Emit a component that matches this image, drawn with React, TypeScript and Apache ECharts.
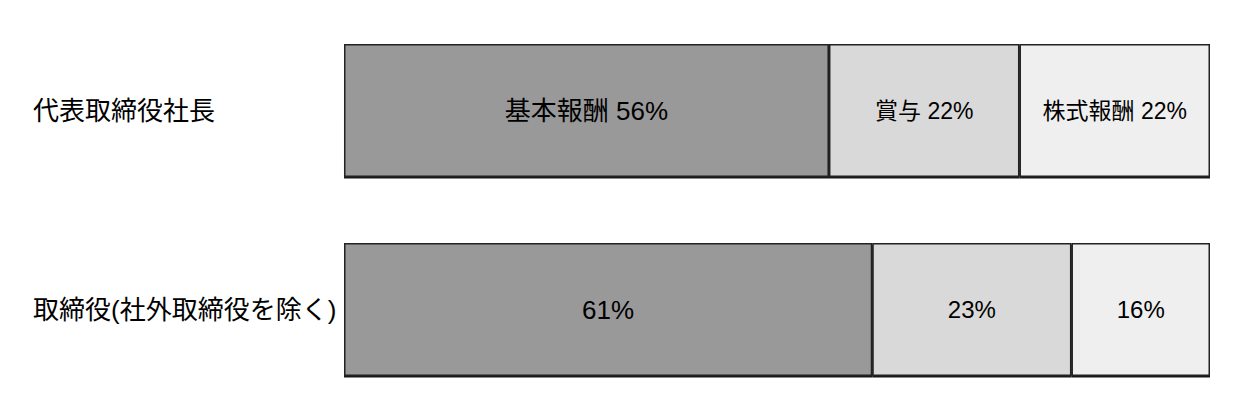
import React, { useEffect, useRef } from 'react';
import * as echarts from 'echarts';

const categories = ['代表取締役社長', '取締役(社外取締役を除く)'];
const seriesNames = ['基本報酬', '賞与', '株式報酬'];
const basicPay = [56, 61];
const bonus = [22, 23];
const stockPay = [22, 16];

const colors = ['#999999', '#d9d9d9', '#efefef'];
const fontFamily = '"Liberation Sans", "Noto Sans CJK JP", sans-serif';

const App: React.FC = () => {
  const chartRef = useRef<HTMLDivElement>(null);

  useEffect(() => {
    if (!chartRef.current) return;
    const chart = echarts.init(chartRef.current, undefined, { renderer: 'svg' });

    const values = [basicPay, bonus, stockPay];
    // 先頭の区分だけ少し大きめ
    const labelSizes = [
      [26, 26],
      [23, 24],
      [23, 24],
    ];

    const option: any = {
      animation: false,
      backgroundColor: '#ffffff',
      grid: { left: 344, right: 27, top: 11, bottom: 7 },
      xAxis: {
        type: 'value',
        min: 0,
        max: 100,
        show: false,
      },
      yAxis: {
        type: 'category',
        inverse: true,
        data: categories,
        axisLine: { show: false },
        axisTick: { show: false },
        splitLine: { show: false },
        axisLabel: {
          align: 'left',
          margin: 311,
          fontSize: 26,
          color: '#000',
          fontFamily,
        },
      },
      series: seriesNames.map((name, si) => ({
        name,
        type: 'bar',
        stack: 'total',
        barWidth: 133,
        itemStyle: {
          color: colors[si],
          borderColor: '#222',
          borderWidth: 1.5,
          shadowColor: 'rgba(0,0,0,0.9)',
          shadowOffsetY: 1.5,
          shadowBlur: 0,
        },
        label: {
          show: true,
          position: 'inside',
          color: '#000',
          fontFamily,
          formatter: (p: any) =>
            p.dataIndex === 0 ? `${name} ${p.value}%` : `${p.value}%`,
        },
        data: values[si].map((v, row) => ({
          value: v,
          label: { fontSize: labelSizes[si][row] },
        })),
      })),
    };

    chart.setOption(option);
    return () => chart.dispose();
  }, []);

  return (
    <div
      ref={chartRef}
      style={{ position: 'fixed', left: 0, top: 0, width: 1237, height: 416 }}
    />
  );
};

export default App;
